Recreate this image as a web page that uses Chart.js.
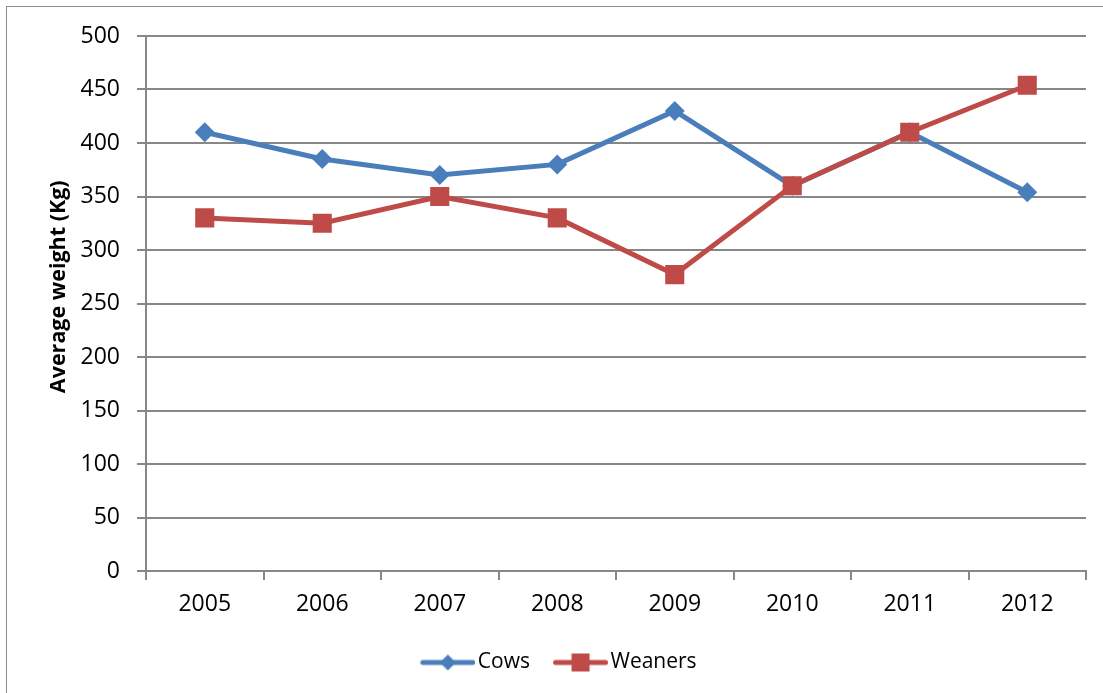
<!DOCTYPE html>
<html>
<head>
<meta charset="utf-8">
<script src="https://cdn.jsdelivr.net/npm/chart.js@4.4.0/dist/chart.umd.min.js"></script>
<style>
  html, body { margin: 0; padding: 0; background: #fff; }
  #wrap { width: 1103px; height: 693px; }
</style>
</head>
<body>
<div id="wrap"><canvas id="chart1" width="1103" height="693"></canvas></div>
<script>
    // Datos del gráfico
    var years = ['2005', '2006', '2007', '2008', '2009', '2010', '2011', '2012'];
    var cows = [410, 385, 370, 380, 430, 360, 410, 354];
    var weaners = [330, 325, 350, 330, 277, 360, 410, 454];
    var yTicks = [0, 50, 100, 150, 200, 250, 300, 350, 400, 450, 500];

    var blue = '#4A7EBB';
    var red = '#BE4B48';
    var gridColor = '#878787';

    // icono de leyenda: linea con marcador (desplazado a la derecha para acercarlo al texto)
    function legendIcon(color, shape) {
        var c = document.createElement('canvas');
        c.width = 74; c.height = 20;
        var g = c.getContext('2d');
        var o = 18.5;
        g.strokeStyle = color;
        g.lineWidth = 5;
        g.lineCap = 'round';
        g.beginPath(); g.moveTo(o + 3, 10); g.lineTo(o + 53, 10); g.stroke();
        g.fillStyle = color;
        g.beginPath();
        if (shape === 'diamond') {
            g.moveTo(o + 28, 2); g.lineTo(o + 36, 10); g.lineTo(o + 28, 18); g.lineTo(o + 20, 10);
        } else {
            g.rect(o + 19, 1, 18, 18);
        }
        g.fill();
        return c;
    }
    var icons = [legendIcon(blue, 'diamond'), legendIcon(red, 'square')];

    // borde exterior
    var borderPlugin = {
        id: 'outerBorder',
        beforeDraw: function (chart) {
            var ctx = chart.ctx;
            ctx.save();
            ctx.strokeStyle = '#8c8c8c';
            ctx.lineWidth = 1;
            ctx.strokeRect(6.5, 6.5, 1110, 700);
            ctx.restore();
        }
    };

    var font = "'Open Sans', 'Liberation Sans', sans-serif";

    var ctx1 = document.getElementById('chart1').getContext('2d');
    var chart1 = new Chart(ctx1, {
        type: 'line',
        data: {
            labels: years,
            datasets: [{
                label: 'Cows',
                data: cows,
                order: 2, // debajo de Weaners
                borderColor: blue,
                backgroundColor: blue,
                borderWidth: 5,
                pointStyle: 'rectRot',
                pointRadius: 10,
                pointHoverRadius: 10,
                pointBorderWidth: 0,
                tension: 0
            }, {
                label: 'Weaners',
                data: weaners,
                order: 1,
                borderColor: red,
                backgroundColor: red,
                borderWidth: 5,
                pointStyle: 'rect',
                pointRadius: 13.5,
                pointHoverRadius: 13.5,
                pointBorderWidth: 0,
                tension: 0
            }]
        },
        options: {
            responsive: false,
            animation: false,
            layout: { padding: { top: 36, right: 17, left: 20, bottom: 10 } },
            plugins: {
                tooltip: { enabled: false },
                legend: {
                    position: 'bottom',
                    labels: {
                        usePointStyle: true,
                        pointStyleWidth: 58,
                        boxHeight: 20,
                        padding: 12,
                        color: '#000',
                        font: { family: font, size: 21 },
                        generateLabels: function (chart) {
                            return chart.data.datasets.map(function (ds, i) {
                                return {
                                    text: ds.label,
                                    pointStyle: icons[i],
                                    fillStyle: ds.borderColor,
                                    strokeStyle: ds.borderColor,
                                    lineWidth: 0,
                                    fontColor: '#000',
                                    datasetIndex: i
                                };
                            });
                        }
                    }
                }
            },
            scales: {
                x: {
                    offset: true,
                    grid: {
                        offset: true,
                        drawOnChartArea: false,
                        drawTicks: true,
                        tickLength: 9,
                        color: gridColor,
                        lineWidth: 2
                    },
                    border: { color: gridColor, width: 2 },
                    ticks: {
                        color: '#000',
                        padding: 11,
                        font: { family: font, size: 23 }
                    },
                    afterFit: function (scale) { scale.height = 69; }
                },
                y: {
                    min: 0,
                    max: 500,
                    afterBuildTicks: function (scale) {
                        scale.ticks = yTicks.map(function (v) { return { value: v }; });
                    },
                    grid: {
                        color: gridColor,
                        lineWidth: 2,
                        tickLength: 9
                    },
                    border: { color: gridColor, width: 2 },
                    ticks: {
                        color: '#000',
                        padding: 17,
                        font: { family: font, size: 23 }
                    },
                    title: {
                        display: true,
                        text: '\u00a0\u00a0\u00a0\u00a0\u00a0\u00a0Average weight (Kg)',
                        color: '#000',
                        padding: { top: 26, bottom: 0 },
                        font: { family: font, size: 21.5, weight: 'bold' }
                    },
                    afterFit: function (scale) { scale.width = 126; }
                }
            }
        },
        plugins: [borderPlugin]
    });
</script>
</body>
</html>
